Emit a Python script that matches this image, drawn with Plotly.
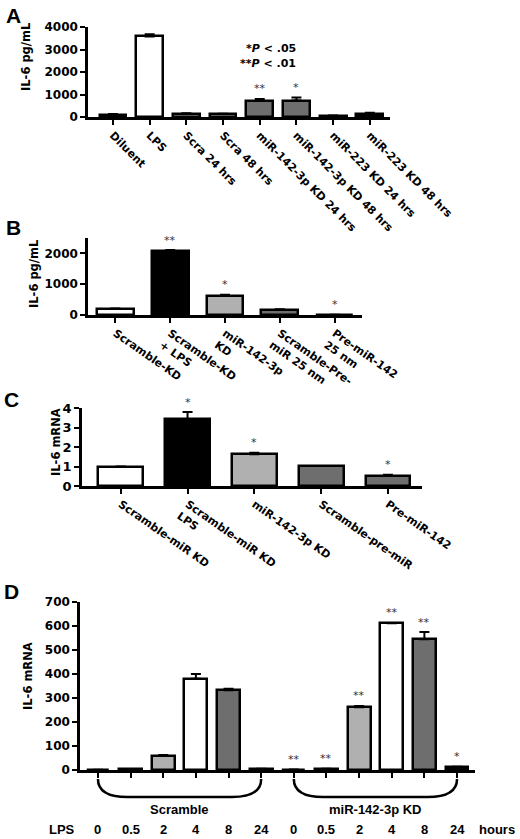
import plotly.graph_objects as go

W, H = 520, 839

# ---- panel A : IL-6 protein
a_labels = ['Diluent', 'LPS', 'Scra 24 hrs', 'Scra 48 hrs', 'miR-142-3p KD 24 hrs',
            'miR-142-3p KD 48 hrs', 'miR-223 KD 24 hrs', 'miR-223 KD 48 hrs']
a_vals = [110, 3580, 150, 130, 730, 730, 60, 140]
a_err = [20, 100, 20, 15, 70, 140, 10, 50]
a_stars = ['', '', '', '', '**', '*', '', '']
a_colors = ['black', 'white', '#b0b0b0', '#b0b0b0', '#6e6e6e', '#6e6e6e', 'black', 'black']

# ---- panel B
b_labels = ['Scramble-KD', 'Scramble-KD<br>+ LPS', 'miR-142-3p<br>KD',
            'Scramble-Pre-<br>miR 25 nm', 'Pre-miR-142<br>25 nm']
b_vals = [200, 2070, 620, 170, 5]
b_err = [10, 40, 40, 15, 0]
b_stars = ['', '**', '*', '', '*']
b_colors = ['white', 'black', '#b0b0b0', '#6e6e6e', '#6e6e6e']

# ---- panel C
c_labels = ['Scramble-miR KD', 'Scramble-miR KD<br>LPS', 'miR-142-3p KD',
            'Scramble-pre-miR', 'Pre-miR-142']
c_vals = [1.0, 3.44, 1.63, 1.02, 0.53]
c_err = [0, 0.35, 0.08, 0, 0.05]
c_stars = ['', '*', '*', '', '*']
c_colors = ['white', 'black', '#b0b0b0', '#6e6e6e', '#6e6e6e']

# ---- panel D : time course
d_times = ['0', '0.5', '2', '4', '8', '24']
d_scr = [1, 3, 60, 380, 332, 5]
d_scr_err = [0, 0, 2, 20, 7, 0]
d_kd = [2, 5, 261, 611, 545, 14]
d_kd_err = [0, 0, 6, 2, 30, 0]
d_scr_stars = ['', '', '', '', '', '']
d_kd_stars = ['**', '**', '**', '**', '**', '*']
d_colors = ['black', 'black', '#b0b0b0', 'white', '#6e6e6e', 'black']
d_groups = ['Scramble', 'miR-142-3p KD']


def fx(p):
    return p / W


def fy(p):
    return 1 - p / H


FONT = 'DejaVu Sans'
ARIAL = 'Liberation Sans'
tfont = dict(family=FONT, size=11, color='black', weight='bold')
rowfont = dict(family=ARIAL, size=13, color='black', weight='bold')

fig = go.Figure()


def note(x, y, text, font, **kw):
    # paper-placed text, always centred unless told otherwise
    args = dict(x=x, y=y, xref='paper', yref='paper', text=text, showarrow=False,
                xanchor='center', yanchor='middle', font=font)
    args.update(kw)
    fig.add_annotation(**args)


def add_panel(n, vals, errs, colors, width, stars):
    xs = list(range(len(vals)))
    fig.add_trace(go.Bar(
        x=xs, y=vals, width=width, xaxis='x%d' % n, yaxis='y%d' % n,
        marker=dict(color=colors, line=dict(color='black', width=2.5)),
        error_y=dict(type='data', array=errs, arrayminus=[0] * len(errs), symmetric=False,
                     color='black', thickness=2, width=5),
        showlegend=False, hoverinfo='skip'))
    for i, s in enumerate(stars):
        if s:
            fig.add_annotation(x=i, y=vals[i] + errs[i], xref='x%d' % n, yref='y%d' % n,
                               text=s, showarrow=False, yshift=10, yanchor='middle',
                               font=dict(family=FONT, size=11, color='#333333'))


add_panel(1, a_vals, a_err, a_colors, 0.73, a_stars)
add_panel(2, b_vals, b_err, b_colors, 0.67, b_stars)
add_panel(3, c_vals, c_err, c_colors, 0.67, c_stars)
add_panel(4, d_scr + d_kd, d_scr_err + d_kd_err, d_colors * 2, 0.7, d_scr_stars + d_kd_stars)

base = dict(showline=True, linecolor='black', linewidth=2.5, ticks='outside',
            tickcolor='black', ticklen=5, tickwidth=2, showgrid=False, zeroline=False,
            tickfont=tfont, automargin=False, fixedrange=True)

fig.update_layout(
    width=W, height=H, margin=dict(l=0, r=0, t=0, b=0),
    paper_bgcolor='white', plot_bgcolor='white', bargap=0,
    xaxis=dict(base, domain=[fx(88), fx(390)], anchor='y', range=[-0.68, 7.55],
               tickvals=list(range(len(a_labels))), ticktext=a_labels, tickangle=45),
    yaxis=dict(base, domain=[fy(117), fy(27)], anchor='x', range=[0, 4000],
               tickvals=[0, 1000, 2000, 3000, 4000], tickfont=dict(tfont, size=12)),
    xaxis2=dict(base, domain=[fx(88), fx(362)], anchor='y2', range=[-0.5, 4.5],
                tickvals=list(range(len(b_labels))), ticktext=b_labels, tickangle=35),
    yaxis2=dict(base, domain=[fy(315), fy(238)], anchor='x2', range=[0, 2500],
                tickvals=[0, 1000, 2000], tickfont=dict(tfont, size=12)),
    xaxis3=dict(base, domain=[fx(82), fx(422)], anchor='y3', range=[-0.58, 4.51],
                tickvals=list(range(len(c_labels))), ticktext=c_labels, tickangle=35),
    yaxis3=dict(base, domain=[fy(486), fy(408)], anchor='x3', range=[0, 4],
                tickvals=[0, 1, 2, 3, 4], tickfont=dict(tfont, size=13)),
    xaxis4=dict(base, domain=[fx(80), fx(475)], anchor='y4', range=[-0.55, 11.55],
                tickvals=list(range(12)), showticklabels=False),
    yaxis4=dict(base, domain=[fy(770), fy(602)], anchor='x4', range=[0, 700],
                tickvals=list(range(0, 701, 100)), tickfont=dict(tfont, size=12)),
)

# panel letters
for letter, x, y in [('A', 4, 2), ('B', 4, 214), ('C', 2, 386), ('D', 2, 578)]:
    note(fx(x), fy(y), letter, dict(family=ARIAL, size=21, color='black', weight='bold'),
         xanchor='left', yanchor='top')

# y titles
for txt, x, y in [('IL-6 pg/mL', 26, 57), ('IL-6 pg/mL', 34, 274),
                  ('IL-6 mRNA', 56, 442), ('IL-6 mRNA', 28, 676)]:
    note(fx(x), fy(y), txt, dict(family=FONT, size=11.5, color='black', weight='bold'),
         textangle=-90)

# P value legend
pfont = dict(family=FONT, size=11, color='black', weight='bold')
note(fx(298), fy(49), '*<i>P</i> < .05', pfont, xanchor='right')
note(fx(298), fy(64), '**<i>P</i> < .01', pfont, xanchor='right')

# panel D brackets, group names and LPS time row
n = len(d_times)
for g, name in enumerate(d_groups):
    x0, x1 = g * n, g * n + n - 1
    y0, y1 = fy(779), fy(797)
    fig.add_shape(type='path', xref='x4', yref='paper',
                  path='M %g,%g Q %g,%g %g,%g L %g,%g Q %g,%g %g,%g' % (
                      x0, y0, x0, y1, x0 + 0.9, y1, x1 - 0.9, y1, x1, y1, x1, y0),
                  line=dict(color='black', width=2.5))
    fig.add_annotation(x=(x0 + x1) / 2, y=fy(809), xref='x4', yref='paper', text=name,
                       showarrow=False, xanchor='center', yanchor='middle', font=rowfont)
    for i, t in enumerate(d_times):
        fig.add_annotation(x=x0 + i, y=fy(829), xref='x4', yref='paper', text=t,
                           showarrow=False, xanchor='center', yanchor='middle', font=rowfont)

note(fx(62), fy(829), 'LPS', rowfont)
note(fx(497), fy(829), 'hours', rowfont)

fig.write_html('out.html', config={'displayModeBar': False},
               post_script="document.body.style.margin='0';")
